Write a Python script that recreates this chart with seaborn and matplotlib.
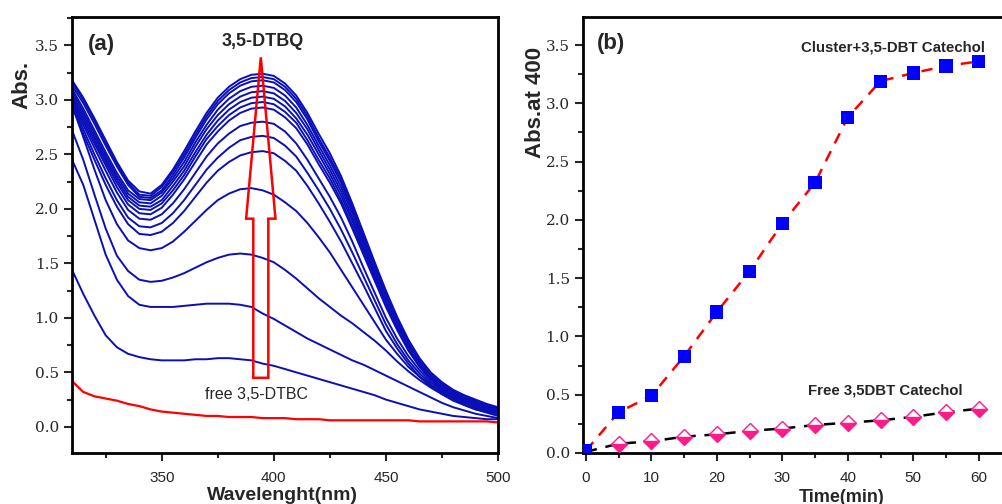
import matplotlib
matplotlib.use('Agg')
import matplotlib.pyplot as plt
from matplotlib.patches import Polygon
from matplotlib.ticker import MultipleLocator, FormatStrFormatter
import seaborn as sns
import pandas as pd

# ---- panel (a): UV-vis spectra, read every 5 nm ----
wavelength = list(range(310, 505, 5))

spectra = [
    [3.18, 3.02, 2.83, 2.63, 2.43, 2.26, 2.16, 2.14, 2.22, 2.36, 2.53, 2.71, 2.88, 3.02, 3.12, 3.19, 3.23, 3.24, 3.22, 3.15,
     3.04, 2.88, 2.69, 2.51, 2.30, 2.05, 1.78, 1.51, 1.25, 1.01, 0.80, 0.63, 0.50, 0.41, 0.34, 0.29, 0.25, 0.21, 0.18],
    [3.16, 3.00, 2.81, 2.61, 2.41, 2.24, 2.13, 2.12, 2.20, 2.34, 2.50, 2.68, 2.85, 2.99, 3.09, 3.16, 3.20, 3.21, 3.19, 3.12,
     3.01, 2.85, 2.65, 2.47, 2.27, 2.02, 1.76, 1.49, 1.23, 0.99, 0.79, 0.62, 0.49, 0.40, 0.33, 0.28, 0.24, 0.20, 0.17],
    [3.13, 2.97, 2.78, 2.58, 2.39, 2.22, 2.11, 2.10, 2.17, 2.31, 2.47, 2.65, 2.82, 2.96, 3.06, 3.13, 3.17, 3.18, 3.16, 3.09,
     2.98, 2.82, 2.62, 2.44, 2.24, 1.99, 1.73, 1.47, 1.21, 0.97, 0.77, 0.61, 0.48, 0.39, 0.32, 0.27, 0.23, 0.20, 0.17],
    [3.10, 2.92, 2.72, 2.52, 2.33, 2.17, 2.09, 2.08, 2.15, 2.28, 2.43, 2.61, 2.77, 2.91, 3.01, 3.08, 3.12, 3.13, 3.11, 3.04,
     2.93, 2.77, 2.58, 2.40, 2.20, 1.96, 1.70, 1.44, 1.19, 0.96, 0.76, 0.60, 0.47, 0.38, 0.31, 0.26, 0.22, 0.19, 0.16],
    [3.08, 2.89, 2.69, 2.49, 2.30, 2.14, 2.06, 2.05, 2.12, 2.25, 2.39, 2.57, 2.73, 2.86, 2.96, 3.03, 3.07, 3.08, 3.06, 2.99,
     2.88, 2.73, 2.54, 2.36, 2.16, 1.92, 1.67, 1.41, 1.16, 0.94, 0.74, 0.58, 0.46, 0.37, 0.30, 0.25, 0.21, 0.18, 0.15],
    [3.05, 2.86, 2.66, 2.46, 2.27, 2.11, 2.03, 2.02, 2.08, 2.21, 2.35, 2.52, 2.68, 2.81, 2.91, 2.98, 3.02, 3.03, 3.01, 2.94,
     2.83, 2.68, 2.50, 2.32, 2.12, 1.89, 1.64, 1.39, 1.14, 0.92, 0.72, 0.57, 0.45, 0.36, 0.29, 0.25, 0.21, 0.18, 0.15],
    [3.03, 2.83, 2.63, 2.43, 2.24, 2.08, 2.00, 1.99, 2.05, 2.17, 2.31, 2.48, 2.64, 2.76, 2.86, 2.93, 2.97, 2.98, 2.96, 2.89,
     2.79, 2.63, 2.45, 2.28, 2.08, 1.85, 1.61, 1.36, 1.12, 0.90, 0.71, 0.56, 0.44, 0.35, 0.28, 0.24, 0.20, 0.17, 0.14],
    [3.01, 2.80, 2.60, 2.40, 2.20, 2.04, 1.96, 1.95, 2.01, 2.13, 2.27, 2.43, 2.59, 2.71, 2.81, 2.88, 2.92, 2.93, 2.91, 2.84,
     2.74, 2.59, 2.41, 2.24, 2.05, 1.82, 1.58, 1.34, 1.10, 0.89, 0.70, 0.55, 0.43, 0.34, 0.27, 0.23, 0.19, 0.16, 0.14],
    [2.99, 2.77, 2.56, 2.35, 2.15, 1.99, 1.91, 1.90, 1.95, 2.05, 2.18, 2.33, 2.48, 2.60, 2.69, 2.76, 2.79, 2.80, 2.78, 2.71,
     2.60, 2.45, 2.28, 2.11, 1.92, 1.70, 1.46, 1.23, 1.00, 0.81, 0.65, 0.52, 0.41, 0.33, 0.26, 0.22, 0.18, 0.15, 0.13],
    [2.97, 2.73, 2.50, 2.28, 2.08, 1.92, 1.84, 1.83, 1.87, 1.96, 2.08, 2.22, 2.36, 2.47, 2.56, 2.63, 2.66, 2.67, 2.65, 2.58,
     2.48, 2.33, 2.17, 2.00, 1.81, 1.60, 1.38, 1.16, 0.94, 0.76, 0.61, 0.49, 0.39, 0.31, 0.25, 0.21, 0.17, 0.14, 0.12],
    [2.95, 2.69, 2.45, 2.22, 2.02, 1.86, 1.77, 1.76, 1.79, 1.87, 1.98, 2.11, 2.24, 2.35, 2.43, 2.49, 2.52, 2.53, 2.51, 2.44,
     2.35, 2.21, 2.05, 1.88, 1.70, 1.50, 1.30, 1.09, 0.88, 0.72, 0.58, 0.46, 0.37, 0.30, 0.24, 0.20, 0.16, 0.14, 0.12],
    [2.95, 2.66, 2.36, 2.08, 1.86, 1.71, 1.64, 1.62, 1.64, 1.70, 1.79, 1.89, 1.99, 2.08, 2.14, 2.18, 2.19, 2.17, 2.13, 2.06,
     1.98, 1.87, 1.74, 1.60, 1.44, 1.28, 1.12, 0.96, 0.80, 0.67, 0.55, 0.46, 0.38, 0.32, 0.26, 0.21, 0.17, 0.14, 0.12],
    [2.72, 2.45, 2.13, 1.82, 1.57, 1.43, 1.35, 1.33, 1.34, 1.37, 1.41, 1.46, 1.51, 1.55, 1.58, 1.59, 1.58, 1.55, 1.51, 1.44,
     1.36, 1.27, 1.18, 1.10, 1.02, 0.95, 0.87, 0.79, 0.70, 0.60, 0.51, 0.43, 0.36, 0.30, 0.25, 0.20, 0.16, 0.13, 0.10],
    [2.45, 2.22, 1.90, 1.58, 1.35, 1.20, 1.12, 1.10, 1.10, 1.10, 1.11, 1.12, 1.13, 1.13, 1.13, 1.12, 1.10, 1.04, 0.99, 0.93,
     0.87, 0.81, 0.76, 0.71, 0.66, 0.61, 0.57, 0.52, 0.47, 0.42, 0.37, 0.32, 0.27, 0.22, 0.18, 0.15, 0.12, 0.10, 0.08],
    [1.44, 1.22, 1.02, 0.84, 0.73, 0.67, 0.64, 0.62, 0.61, 0.61, 0.61, 0.62, 0.62, 0.63, 0.63, 0.62, 0.61, 0.58, 0.56, 0.53,
     0.50, 0.47, 0.44, 0.41, 0.38, 0.35, 0.32, 0.29, 0.25, 0.22, 0.19, 0.16, 0.14, 0.12, 0.10, 0.09, 0.08, 0.07, 0.07],
]
free_dtbc = [0.42, 0.32, 0.28, 0.26, 0.24, 0.21, 0.19, 0.16, 0.14, 0.13, 0.12, 0.11, 0.10, 0.10, 0.09, 0.09, 0.09, 0.08, 0.08, 0.08,
             0.07, 0.07, 0.07, 0.06, 0.06, 0.06, 0.06, 0.06, 0.06, 0.06, 0.06, 0.05, 0.05, 0.05, 0.05, 0.05, 0.05, 0.05, 0.04]

# hollow arrow (nm / Abs units)
arrow_x = 394.2
arrow_bottom, arrow_head_base, arrow_tip = 0.45, 1.91, 3.39
arrow_shaft_half, arrow_head_half = 3.35, 6.55

# ---- panel (b): kinetics at 400 nm ----
time_min = [0, 5, 10, 15, 20, 25, 30, 35, 40, 45, 50, 55, 60]
cluster_abs = [0.02, 0.35, 0.49, 0.83, 1.21, 1.56, 1.97, 2.32, 2.88, 3.19, 3.26, 3.32, 3.36]
free_abs = [0.01, 0.08, 0.10, 0.14, 0.16, 0.19, 0.21, 0.24, 0.26, 0.28, 0.31, 0.35, 0.38]

BLUE = '#0a0fb8'

for c in spectra:
    assert len(c) == len(wavelength)
assert len(free_dtbc) == len(wavelength)

sns.set_style('ticks')
plt.rcParams['font.family'] = ['Liberation Sans', 'DejaVu Sans']

fig = plt.figure(figsize=(10.02, 5.04), dpi=100)
ax1 = fig.add_axes([0.0719, 0.1012, 0.4251, 0.865])
ax2 = fig.add_axes([0.5818, 0.1012, 0.4244, 0.865])

# spectra in long form
rows = []
for i, curve in enumerate(spectra):
    for w, a in zip(wavelength, curve):
        rows.append({'wl': w, 'abs': a, 'curve': i})
df = pd.DataFrame(rows)
sns.lineplot(data=df, x='wl', y='abs', units='curve', estimator=None,
             color=BLUE, lw=1.4, ax=ax1)
sns.lineplot(x=wavelength, y=free_dtbc, color='#ff0000', lw=1.6, ax=ax1)

arrow_pts = [
    (arrow_x - arrow_shaft_half, arrow_bottom),
    (arrow_x + arrow_shaft_half, arrow_bottom),
    (arrow_x + arrow_shaft_half, arrow_head_base),
    (arrow_x + arrow_head_half, arrow_head_base),
    (arrow_x, arrow_tip),
    (arrow_x - arrow_head_half, arrow_head_base),
    (arrow_x - arrow_shaft_half, arrow_head_base),
]
ax1.add_patch(Polygon(arrow_pts, closed=True, fill=False, edgecolor='#ff0000', lw=1.8, zorder=5))

ax1.set_xlim(310, 500)
ax1.set_ylim(-0.24, 3.76)
ax1.xaxis.set_major_locator(MultipleLocator(50))
ax1.xaxis.set_minor_locator(MultipleLocator(25))
ax1.yaxis.set_major_locator(MultipleLocator(0.5))
ax1.yaxis.set_minor_locator(MultipleLocator(0.25))
ax1.yaxis.set_major_formatter(FormatStrFormatter('%.1f'))
ax1.set_ylabel('Abs.', fontsize=16, fontweight='bold')
ax1.yaxis.set_label_coords(-0.094, 0.844)
ax1.set_xlabel('Wavelenght(nm)', fontsize=14, fontweight='bold')
ax1.xaxis.set_label_coords(0.495, -0.078)
ax1.text(0.068, 0.936, '(a)', transform=ax1.transAxes, fontsize=16,
         fontweight='bold', ha='center', va='center')
ax1.text(0.448, 0.943, '3,5-DTBQ', transform=ax1.transAxes, fontsize=13,
         fontweight='bold', ha='center', va='center')
ax1.text(0.432, 0.135, 'free 3,5-DTBC', transform=ax1.transAxes, fontsize=11.5,
         ha='center', va='center')

# kinetics
sns.lineplot(x=time_min, y=cluster_abs, color='#ff0000', lw=1.8,
             linestyle=(0, (4.5, 3.5)), ax=ax2, zorder=2)
sns.lineplot(x=time_min, y=free_abs, color='black', lw=1.8,
             linestyle=(0, (4.5, 3.5)), ax=ax2, zorder=2)
sns.scatterplot(x=time_min, y=cluster_abs, marker='s', s=90, color='#0000ff',
                edgecolor='none', ax=ax2, zorder=4)
ax2.plot(time_min[1:], free_abs[1:], ls='none', marker='D', ms=8,
         fillstyle='bottom', markerfacecolor='#ff1a8c', markerfacecoloralt='white',
         markeredgecolor='#ff1a8c', mew=1.0, zorder=4)

ax2.set_xlim(-0.45, 64.5)
ax2.set_ylim(0, 3.74)
ax2.xaxis.set_major_locator(MultipleLocator(10))
ax2.xaxis.set_minor_locator(MultipleLocator(5))
ax2.yaxis.set_major_locator(MultipleLocator(0.5))
ax2.yaxis.set_minor_locator(MultipleLocator(0.25))
ax2.yaxis.set_major_formatter(FormatStrFormatter('%.1f'))
ax2.set_ylabel('Abs.at 400', fontsize=16, fontweight='bold')
ax2.yaxis.set_label_coords(-0.087, 0.805)
ax2.set_xlabel('Time(min)', fontsize=13, fontweight='bold')
ax2.xaxis.set_label_coords(0.609, -0.082)
ax2.text(0.066, 0.94, '(b)', transform=ax2.transAxes, fontsize=16,
         fontweight='bold', ha='center', va='center')
ax2.text(0.729, 0.931, 'Cluster+3,5-DBT Catechol', transform=ax2.transAxes,
         fontsize=10.8, fontweight='bold', ha='center', va='center')
ax2.text(0.711, 0.144, 'Free 3,5DBT Catechol', transform=ax2.transAxes,
         fontsize=10.8, fontweight='bold', ha='center', va='center')

for ax in (ax1, ax2):
    for sp in ax.spines.values():
        sp.set_visible(True)
        sp.set_linewidth(2)
        sp.set_color('black')
    ax.tick_params(which='major', direction='out', length=6, width=1.5)
    ax.tick_params(which='minor', direction='out', length=3.5, width=1.5)
    ax.tick_params(axis='x', which='major', pad=7)
    for lab in ax.get_yticklabels():
        lab.set_family('DejaVu Serif')
        lab.set_fontsize(11)
    for lab in ax.get_xticklabels():
        lab.set_fontsize(11)

fig.savefig('out.png', dpi=100)
